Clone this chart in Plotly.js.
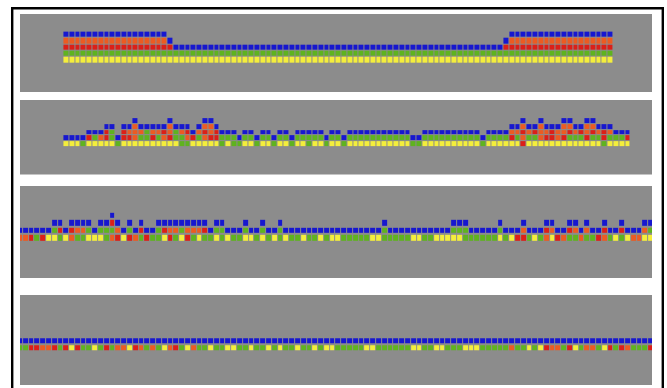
<!DOCTYPE html>
<html>
<head>
<meta charset="utf-8">
<script src="https://cdn.plot.ly/plotly-3.0.1.min.js"></script>
<style>
  html, body { margin: 0; padding: 0; background: #ffffff; }
  #chart { width: 667px; height: 388px; }
</style>
</head>
<body>
<div id="chart"></div>
<script>
// Cell states: B = blue, R = red, O = orange, Y = yellow, G = green, "." = empty
const stateNames = ["B", "R", "O", "Y", "G"];

// Panel 1 rows, top row first (95 columns)
const panel1Rows = [
  "BBBBBBBBBB" + "BBBBBBBB.." + ".........." + ".........." + ".........." + ".........." + ".........." + ".......BBB" + "BBBBBBBBBB" + "BBBBB",
  "OOOOOOOOOO" + "OOOOOOOOB." + ".........." + ".........." + ".........." + ".........." + ".........." + "......BOOO" + "OOOOOOOOOO" + "OOOOO",
  "RRRRRRRRRR" + "RRRRRRRRRB" + "BBBBBBBBBB" + "BBBBBBBBBB" + "BBBBBBBBBB" + "BBBBBBBBBB" + "BBBBBBBBBB" + "BBBBBBRRRR" + "RRRRRRRRRR" + "RRRRR",
  "GGGGGGGGGG" + "GGGGGGGGGG" + "GGGGGGGGGG" + "GGGGGGGGGG" + "GGGGGGGGGG" + "GGGGGGGGGG" + "GGGGGGGGGG" + "GGGGGGGGGG" + "GGGGGGGGGG" + "GGGGG",
  "YYYYYYYYYY" + "YYYYYYYYYY" + "YYYYYYYYYY" + "YYYYYYYYYY" + "YYYYYYYYYY" + "YYYYYYYYYY" + "YYYYYYYYYY" + "YYYYYYYYYY" + "YYYYYYYYYY" + "YYYYY"
];

// Panel 2 rows, top row first (98 columns)
const panel2Rows = [
  ".........." + "..B.....B." + "....BB...." + ".........." + ".........." + ".........." + ".........." + ".........B" + "..B...BB.." + "BB......",
  ".......BB." + "BBOBBBBBOB" + "BB.BOOB..." + ".........." + ".........." + ".........." + ".........." + ".......BBO" + "BBOBBBOOBB" + "OOBBB...",
  "....BBBRG." + "ROOOGOOROG" + "ORBORORBBB" + ".BB.BB.BB." + "BBBBB.BB.B" + "BBBBBBBBBB" + "..BBBBBBBB" + "BB.BBBBOOR" + "OROOROOROR" + "OROROBBB",
  "BBBBRGORGB" + "RROGGRGORG" + "GORGORRGGG" + "BGGBGGBGGB" + "GGGGGBGGBG" + "GGGGGGGGGG" + "BBGGGGGGGG" + "GGBGGGGRGO" + "GGORRORGGG" + "RGGRGGGR",
  "YYYGYYYYYG" + "YYYYYYYYYY" + "GGYYYYYGYG" + "GYYGYYGYYG" + "YYGYYGYYGY" + "YYYYYYYYYY" + "GGYYYYYYYY" + "YYGYYYYYYR" + "YYYYYYYYYY" + "YYYGYYYY"
];

// Panel 3 rows, top row first (110 columns)
const panel3Rows = [
  ".........." + "......B..." + ".........." + ".........." + ".........." + ".........." + ".........." + ".........." + ".........." + ".........." + "..........",
  "......BB.B" + "BBB.BBRB.B" + ".B..BBBBBB" + "BBB.BB...B" + "..B..B...." + ".........." + "...B......" + ".....BBB.." + "...B...B.." + ".BB..BB.B." + ".B..B...BB",
  "BBBBBBGRBR" + "OOGBGGGOBG" + "BRBBGROOGO" + "OORBGGBBBG" + "BBGBBGBBBB" + "BBBBBBBBBB" + "BBBGBBBBBB" + "BBBBBGGGBB" + "BBBGBBBOBB" + "BROBBROBOB" + "BRBBRBBBOG",
  "OORGRYYGYO" + "GGYYYGORYR" + "OGRGGYRGYR" + "GYGGYGYGGY" + "YGYGYGYGGY" + "GGYGYYGGGG" + "GYYGGGGGYY" + "GGYYYYYGGG" + "GGGYGYRRGY" + "GOYROGGOGG" + "ROGYGYOOYY"
];

// Panel 4 rows, top row first (110 columns)
const panel4Rows = [
  "BBBBBBBBBB" + "BBBBBBBBBB" + "BBBBBBBBBB" + "BBBBBBBBBB" + "BBBBBBBBBB" + "BBBBBBBBBB" + "BBBBBBBBBB" + "BBBBBBBBBB" + "BBBBBBBBBB" + "BBBBBBBBBB" + "BBBBBBBBBB",
  "GGRROORGRY" + "RGGYGRGOOY" + "ROGOGYORGY" + "OGGYGGYYGG" + "YGGYGYGGYG" + "GYGYYGGGGG" + "YYGGGGGGYY" + "GGYYGGGYYY" + "GGGGGOGGYG" + "YROOGRYGOO" + "GYRGROGGGR"
];

// ---------- styling / layout ----------
const W = 667, H = 388;
const stateColors = ["#1717cf", "#dc1f18", "#ec5b22", "#f4ee3c", "#5fb31f"];
const panels = [panel1Rows, panel2Rows, panel3Rows, panel4Rows];
const firstCell = [7.5, 7.5, -0.5, -0.5];
const panelPix = [[14, 92], [100, 174.5], [186, 278], [295, 385]];
const yRanges = [[-5.08, 7.30], [-5.30, 7.65], [-5.45, 6.99], [-5.14, 7.36]];
const yGaps = [1, 1, 2, 2];
const xRange = [-0.5, 108.65];
const xDomain = [20 / W, 652 / W];

const codeOf = {};
stateNames.forEach((s, i) => codeOf[s] = i + 1);
const cs = [];
stateColors.forEach((c, i) => {
  const a = Math.max(0, (i - 0.5) / 4), b = Math.min(1, (i + 0.5) / 4);
  cs.push([a, c]); cs.push([b, c]);
});

function toZ(rows) {
  const z = [];
  for (let r = rows.length - 1; r >= 0; r--) {
    z.push(rows[r].split("").map(ch => (ch in codeOf) ? codeOf[ch] : null));
  }
  return z;
}

const traces = [];
const layout = {
  width: W, height: H,
  margin: { l: 0, r: 0, t: 0, b: 0 },
  paper_bgcolor: "#ffffff",
  plot_bgcolor: "#8c8c8c",
  showlegend: false,
  shapes: [{
    type: "rect", xref: "paper", yref: "paper",
    x0: 12.2 / W, x1: 662.8 / W, y0: -0.1, y1: 1 - 8.3 / H,
    line: { color: "#000000", width: 2.4 }, fillcolor: "rgba(0,0,0,0)"
  }]
};

panels.forEach((rows, i) => {
  const sfx = i === 0 ? "" : String(i + 1);
  traces.push({
    type: "heatmap",
    z: toZ(rows),
    x0: firstCell[i], dx: 1, y0: 0, dy: 1,
    xaxis: "x" + sfx, yaxis: "y" + sfx,
    colorscale: cs, zmin: 1, zmax: 5,
    showscale: false, xgap: 1, ygap: yGaps[i],
    hoverinfo: "skip"
  });
  const axBase = { showgrid: false, zeroline: false, showticklabels: false, ticks: "", showline: false, fixedrange: true };
  layout["xaxis" + sfx] = Object.assign({}, axBase, { domain: xDomain, range: xRange, anchor: "y" + sfx });
  layout["yaxis" + sfx] = Object.assign({}, axBase, {
    domain: [1 - panelPix[i][1] / H, 1 - panelPix[i][0] / H],
    range: yRanges[i], anchor: "x" + sfx
  });
});

Plotly.newPlot("chart", traces, layout, { displayModeBar: false, staticPlot: true });
</script>
</body>
</html>
